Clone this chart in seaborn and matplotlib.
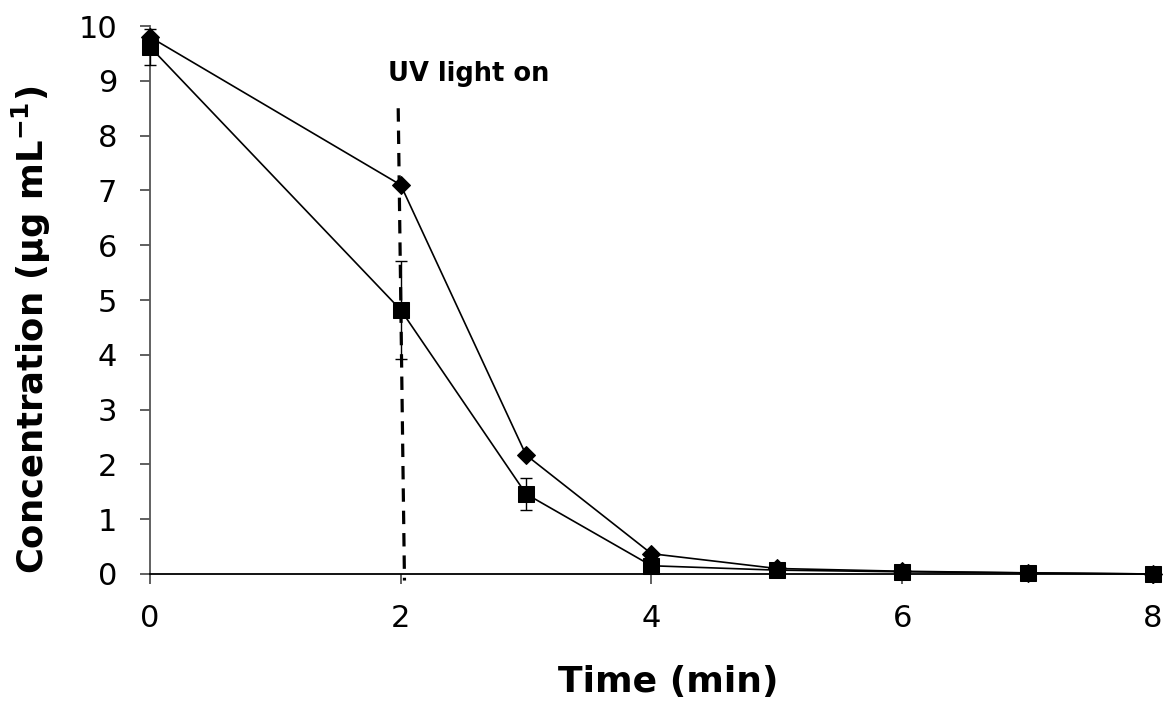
import numpy as np
import pandas as pd
import matplotlib
matplotlib.use("Agg")
import matplotlib.pyplot as plt
import seaborn as sns

time_min = [0, 2, 3, 4, 5, 6, 7, 8]
conc_diamond = [9.80, 7.10, 2.17, 0.37, 0.10, 0.05, 0.02, 0.00]
conc_square = [9.62, 4.82, 1.46, 0.15, 0.07, 0.04, 0.02, 0.00]
err_square = [0.33, 0.90, 0.29, 0.0, 0.0, 0.0, 0.0, 0.0]
x_ticks = [0, 2, 4, 6, 8]
y_ticks = list(range(0, 11))
uv_time = 2

sns.set_theme(style="white")
plt.rcParams['font.family'] = ['DejaVu Sans']
plt.rcParams['text.color'] = 'black'
plt.rcParams['axes.labelcolor'] = 'black'

fig = plt.figure(figsize=(11.67, 7.04), dpi=100)
ax = fig.add_axes([0.1285, 0.1847, 0.8595, 0.7783])

df_d = pd.DataFrame({"t": time_min, "c": conc_diamond})
df_s = pd.DataFrame({"t": time_min, "c": conc_square})

sns.lineplot(data=df_d, x="t", y="c", ax=ax, color="black", lw=1.2,
             marker="D", markersize=9, markeredgecolor="black", clip_on=False, zorder=4)
sns.lineplot(data=df_s, x="t", y="c", ax=ax, color="black", lw=1.2,
             marker="s", markersize=11, markeredgecolor="black", clip_on=False, zorder=5)
ax.errorbar(time_min, conc_square, yerr=err_square, fmt="none", ecolor="black",
            elinewidth=1.0, capsize=4, capthick=1.0, zorder=3, clip_on=False)

# UV light on marker line
ax.plot([uv_time - 0.02, uv_time + 0.03], [8.5, -0.12], color="black", lw=2.3,
        ls=(0, (4.2, 2.8)), clip_on=False, zorder=2)
ax.text(uv_time - 0.1, 9.12, "UV light on", fontsize=18.5, fontweight="bold",
        ha="left", va="center", color="black")

ax.set_xlim(0, 8)
ax.set_ylim(0, 10)
ax.set_xticks(x_ticks)
ax.set_yticks(y_ticks)
ax.tick_params(axis="both", direction="out", length=7.5, width=1.2, colors="#444444",
               labelsize=22, labelcolor="black", bottom=True, left=True)
ax.tick_params(axis="x", pad=14)
ax.tick_params(axis="y", pad=16)
for s in ["top", "right"]:
    ax.spines[s].set_visible(False)
ax.spines["left"].set_color("#555555")
ax.spines["left"].set_linewidth(1.3)
ax.spines["bottom"].set_color("black")
ax.spines["bottom"].set_linewidth(1.3)

ax.set_xlabel("Time (min)", fontsize=26, fontweight="bold")
ax.set_ylabel(r"Concentration (µg mL$^{\mathbf{-1}}$)", fontsize=25.5, fontweight="bold")
ax.xaxis.set_label_coords(0.517, -0.166)
ax.yaxis.set_label_coords(-0.097, 0.445)
ax.grid(False)

fig.savefig("out.png", dpi=100)
